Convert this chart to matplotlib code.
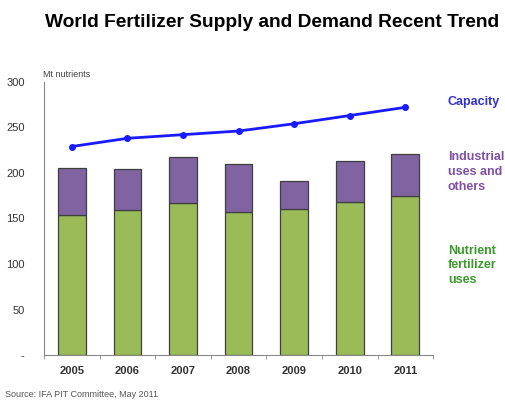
import matplotlib.pyplot as plt
import numpy as np

plt.rcParams['font.family'] = ['Liberation Sans', 'DejaVu Sans']

years = ['2005', '2006', '2007', '2008', '2009', '2010', '2011']
nutrient = [154, 159, 167, 157, 160, 168, 175]
total = [205, 204, 217, 210, 191, 213, 221]
industrial = [t - n for t, n in zip(total, nutrient)]
capacity = [229, 238, 242, 246, 254, 263, 272]

green = '#9bbb59'
purple = '#8064a2'
blue = '#1a1aff'

fig = plt.figure(figsize=(5.06, 4.05), dpi=100)
ax = fig.add_axes([0.087, 0.123, 0.769, 0.675])

x = np.arange(len(years))
ax.bar(x, nutrient, width=0.5, color=green, edgecolor='#3f3f3f', linewidth=0.9)
ax.bar(x, industrial, width=0.5, bottom=nutrient, color=purple, edgecolor='#3f3f3f', linewidth=0.9)
ax.plot(x, capacity, color=blue, linewidth=2, marker='o', markersize=4)

ax.set_xlim(-0.5, 6.5)
ax.set_ylim(0, 300)
ax.set_yticks([0, 50, 100, 150, 200, 250, 300])
ax.set_yticklabels(['-', '50', '100', '150', '200', '250', '300'])
ax.set_xticks(x)
ax.set_xticklabels(years, fontweight='bold')
ax.set_xticks(np.arange(-0.5, 7, 1), minor=True)
ax.tick_params(axis='x', which='major', length=0, pad=8, labelsize=8, colors='#333333')
ax.tick_params(axis='x', which='minor', length=3, color='#888888')
ax.tick_params(axis='y', length=0, pad=14, labelsize=8, colors='#333333')

for s in ['top', 'right']:
    ax.spines[s].set_visible(False)
for s in ['left', 'bottom']:
    ax.spines[s].set_color('#888888')

fig.text(0.537, 0.945, 'World Fertilizer Supply and Demand Recent Trend',
         ha='center', va='center', fontsize=13.8, fontweight='bold')
fig.text(0.085, 0.81, 'Mt nutrients', fontsize=6.5, color='#444444')
fig.text(0.885, 0.748, 'Capacity', fontsize=9, fontweight='bold', color='#3333cc', va='center')
fig.text(0.885, 0.575, 'Industrial\nuses and\nothers', fontsize=9, fontweight='bold',
         color='#7f4fa8', va='center', linespacing=1.3)
fig.text(0.885, 0.345, 'Nutrient\nfertilizer\nuses', fontsize=9, fontweight='bold',
         color='#3a9a2a', va='center', linespacing=1.3)
fig.text(0.01, 0.02, 'Source: IFA PIT Committee, May 2011', fontsize=6.5, color='#555555')

plt.savefig('out.png', dpi=100)
